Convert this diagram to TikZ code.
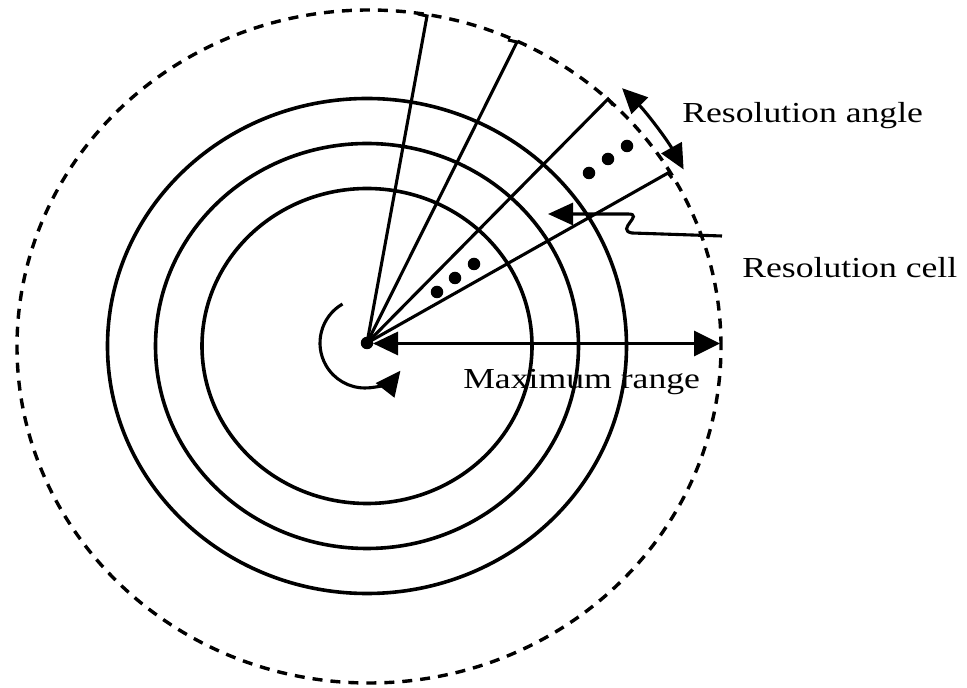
\documentclass[tikz,border=0pt]{standalone}
\usepackage{fontspec}
\setmainfont{Liberation Serif}
\usetikzlibrary{arrows.meta}
\begin{document}
\begin{tikzpicture}[x=1pt,y=1pt,
  ring/.style={line width=3.6pt},
  ray/.style={line width=3.1pt},
  dashring/.style={line width=3.4pt,dash pattern=on 10pt off 8pt},
  lbl/.style={inner sep=0pt,anchor=base west,font=\fontsize{29}{34}\selectfont,xscale=1.23},
  spot/.style={circle,fill=black,inner sep=0pt,minimum size=12.5pt}]
\useasboundingbox (0,0) rectangle (967,688);
\fill[white] (0,0) rectangle (967,688);
% rings
\coordinate (c) at (367,342);
\draw[dashring] (369,341.5) ellipse [x radius=352, y radius=336.5];
\draw[ring] (c) ellipse [x radius=259.5, y radius=247.5];
\draw[ring] (c) ellipse [x radius=211.5, y radius=202.5];
\draw[ring] (c) ellipse [x radius=165, y radius=157.5];
% centre
\node[spot] (o) at (367,345) {};
% rays with end ticks
\coordinate (r1) at (427,672); \coordinate (t1) at (418,674);
\coordinate (r2) at (517,646); \coordinate (t2) at (508,648);
\coordinate (r3) at (608,589); \coordinate (t3) at (613,583);
\coordinate (r4) at (668,515); \coordinate (t4) at (672,510);
\draw[ray] (o.center) -- (r1) -- (t1);
\draw[ray] (o.center) -- (r2) -- (t2);
\draw[ray] (o.center) -- (r3) -- (t3);
\draw[ray] (o.center) -- (r4) -- (t4);
% dots
\node[spot] (u1) at (589,515) {};
\node[spot] (u2) at (608,529) {};
\node[spot] (u3) at (627,542) {};
\node[spot] (d1) at (437,396) {};
\node[spot] (d2) at (455,410) {};
\node[spot] (d3) at (474,424) {};
% maximum range
\coordinate (mr) at (720,344.5);
\draw[ray,{Triangle[length=25pt,width=23pt]}-{Triangle[length=26pt,width=25pt]}] (373,344.5) -- (mr);
% rotation arrow
\draw[ray,-{Triangle[length=25pt,width=23pt]}] (365,345) ++(120:45) arc[start angle=120,end angle=322,radius=45];
% resolution angle arc
\draw[ray,{Triangle[length=25pt,width=23pt]}-{Triangle[length=25pt,width=23pt]}] (367,343) ++(29:362) arc[start angle=29,end angle=45.2,radius=362];
% resolution cell leader
\coordinate (rcend) at (722,452);
\coordinate (rctip) at (548,474);
\draw[ray,-{Triangle[length=25pt,width=22pt]}] (rcend) -- (632,455) .. controls (615,458) and (645,474) .. (628,474) -- (rctip);
% labels
\node[lbl] (la) at (682,565) {Resolution angle};
\node[lbl] (lc) at (742,410) {Resolution cell};
\node[lbl] (lm) at (463,299) {Maximum range};
\end{tikzpicture}
\end{document}
